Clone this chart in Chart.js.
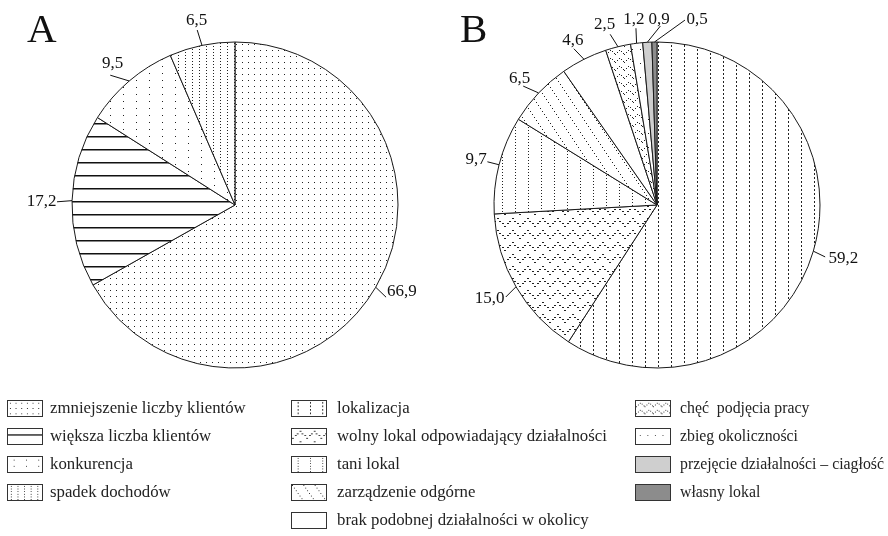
<!DOCTYPE html>
<html lang="pl">
<head>
<meta charset="UTF-8">
<title>Przyczyny - wykresy kołowe A i B</title>
<script src="https://cdn.jsdelivr.net/npm/chart.js"></script>
<style>
  body { margin: 0; background: #fff; font-family: "Liberation Serif", "Times New Roman", serif; }
  #page { position: relative; width: 888px; height: 536px; overflow: hidden; }
  .panel { position: absolute; top: 0; display: block; }
  .letter { position: absolute; font-size: 41px; line-height: 1; color: #111; }
  .swatch { position: absolute; width: 36px; height: 17px; box-sizing: border-box; border: 1px solid #333; }
  .legend-text { position: absolute; line-height: 17px; color: #222; white-space: pre; }
</style>
</head>
<body>
<div id="page">
  <canvas id="pieA" class="panel" width="444" height="410" style="left:0"></canvas>
  <canvas id="pieB" class="panel" width="444" height="410" style="left:444px"></canvas>
  <div class="letter" style="left:27px; top:8px">A</div>
  <div class="letter" style="left:460px; top:8px">B</div>
  <div id="legend"></div>
</div>

<script>
  // chart A
  const categoriesA = ["zmniejszenie liczby klientów", "większa liczba klientów", "konkurencja", "spadek dochodów"];
  const valuesA = [66.9, 17.2, 9.5, 6.5];

  // chart B
  const categoriesB = ["lokalizacja", "wolny lokal odpowiadający działalności", "tani lokal",
    "zarządzenie odgórne", "brak podobnej działalności w okolicy", "chęć  podjęcia pracy",
    "zbieg okoliczności", "przejęcie działalności – ciagłość", "własny lokal"];
  const valuesB = [59.2, 15.0, 9.7, 6.5, 4.6, 2.5, 1.2, 0.9, 0.5];

  // callout layout per slice: [leader angle shift, leader length, text angle shift, text distance]
  const calloutsA = [[1.1, 14, -2.9, 25], [-0.5, 15, -0.6, 30.5], [-3.4, 17, -0.4, 24], [-0.5, 16, -0.1, 25]];
  const calloutsB = [[0.7, 13, -0.3, 31], [-1.2, 14, 0.8, 29], [0, 12, -0.2, 23.5], [-1.8, 16, -0.7, 24],
    [-1.4, 14, -0.4, 22], [-1.5, 14, -2.4, 24.5], [0.4, 15, 0.1, 23.5], [4.5, 16, 4.1, 22], [9.5, 24, 13.1, 26.3]];

  // small pattern tiles
  function tile(w, h, draw) {
    const c = document.createElement("canvas");
    c.width = w; c.height = h;
    const g = c.getContext("2d");
    g.fillStyle = "#fff";
    g.fillRect(0, 0, w, h);
    g.fillStyle = "#222";
    draw(g);
    return g.createPattern(c, "repeat");
  }

  function zigzag(g, w, h, step, pair) {
    // dotted chevron line across the tile
    for (let x = 0; x < w; x += step) {
      const t = x / w;
      const y = t < 0.5 ? (h - 2) - t * 2 * (h - 4) : 2 + (t - 0.5) * 2 * (h - 4);
      g.fillRect(Math.round(x), Math.round(y), 1, 1);
      if (pair) g.fillRect(Math.round(x) + 1, Math.round(y), 1, 1);
    }
  }

  const fillsA = [
    tile(6, 6, g => g.fillRect(2, 2, 1, 1)),
    tile(10, 13, g => { g.fillStyle = "#111"; g.fillRect(0, 6, 10, 1.5); }),
    tile(13, 7, g => g.fillRect(6, 3, 1, 1)),
    tile(7, 3, g => g.fillRect(3, 1, 1, 1))
  ];

  const fillsB = [
    tile(13, 4, g => g.fillRect(6, 1, 1, 2)),
    tile(15, 12, g => zigzag(g, 15, 12, 2.5, true)),
    tile(13, 3, g => g.fillRect(6, 1, 1, 1)),
    tile(12, 18, g => { for (let k = 0; k < 6; k++) g.fillRect(k * 2, k * 3, 1, 1); }),
    "#ffffff",
    tile(9, 8, g => zigzag(g, 9, 8, 2, false)),
    tile(8, 14, g => g.fillRect(4, 7, 1, 1)),
    "#cfcfcf",
    "#8c8c8c"
  ];

  const calloutPlugin = {
    id: "callouts",
    afterDatasetsDraw(chart, args, opts) {
      const ctx = chart.ctx;
      const meta = chart.getDatasetMeta(0);
      const values = chart.data.datasets[0].data;
      const deg = Math.PI / 180;
      ctx.save();
      ctx.strokeStyle = "#111";
      ctx.lineWidth = 1;
      ctx.fillStyle = "#111";
      ctx.font = '17px "Liberation Serif", serif';
      ctx.textAlign = "center";
      ctx.textBaseline = "middle";
      meta.data.forEach((arc, i) => {
        const [dl, len, dt, tr] = opts.items[i];
        const mid = (arc.startAngle + arc.endAngle) / 2;
        const r = arc.outerRadius;
        const pt = (a, rr) => [arc.x + rr * Math.cos(a), arc.y + rr * Math.sin(a)];
        const p0 = pt(mid, r), p1 = pt(mid + dl * deg, r + len), pc = pt(mid + dt * deg, r + tr);
        ctx.beginPath();
        ctx.moveTo(p0[0], p0[1]);
        ctx.lineTo(p1[0], p1[1]);
        ctx.stroke();
        ctx.fillText(values[i].toFixed(1).replace(".", ","), pc[0], pc[1]);
      });
      ctx.restore();
    }
  };

  function makePie(id, labels, values, fills, callouts, padding) {
    return new Chart(document.getElementById(id), {
      type: "pie",
      data: {
        labels: labels,
        datasets: [{
          data: values,
          backgroundColor: fills,
          borderColor: "#1a1a1a",
          borderWidth: 1,
          radius: 163,
          hoverOffset: 0
        }]
      },
      options: {
        responsive: false,
        animation: false,
        events: [],
        layout: { padding: padding },
        plugins: {
          legend: { display: false },
          tooltip: { enabled: false },
          callouts: { items: callouts }
        }
      },
      plugins: [calloutPlugin]
    });
  }

  makePie("pieA", categoriesA, valuesA, fillsA, calloutsA, { left: 26, right: 0, top: 0, bottom: 0 });
  makePie("pieB", categoriesB, valuesB, fillsB, calloutsB, { left: 0, right: 18, top: 0, bottom: 0 });

  // legend in three columns
  const legendCols = [
    { sw: 7, tx: 50, size: 16.8, items: categoriesA.map((c, i) => [c, fillsA[i]]) },
    { sw: 291, tx: 337, size: 16.8, items: categoriesB.slice(0, 5).map((c, i) => [c, fillsB[i]]) },
    { sw: 635, tx: 680, size: 15.8, items: categoriesB.slice(5).map((c, i) => [c, fillsB[i + 5]]) }
  ];
  const legend = document.getElementById("legend");
  legendCols.forEach(col => {
    col.items.forEach(([name, fill], row) => {
      const top = 400 + row * 28;
      const sw = document.createElement("canvas");
      sw.className = "swatch";
      sw.width = 36; sw.height = 17;
      sw.style.left = col.sw + "px";
      sw.style.top = top + "px";
      const g = sw.getContext("2d");
      g.fillStyle = fill;
      g.fillRect(0, 0, 36, 17);
      legend.appendChild(sw);
      const t = document.createElement("div");
      t.className = "legend-text";
      t.style.left = col.tx + "px";
      t.style.top = (top - 1) + "px";
      t.style.fontSize = col.size + "px";
      t.textContent = name;
      legend.appendChild(t);
    });
  });
</script>
</body>
</html>
